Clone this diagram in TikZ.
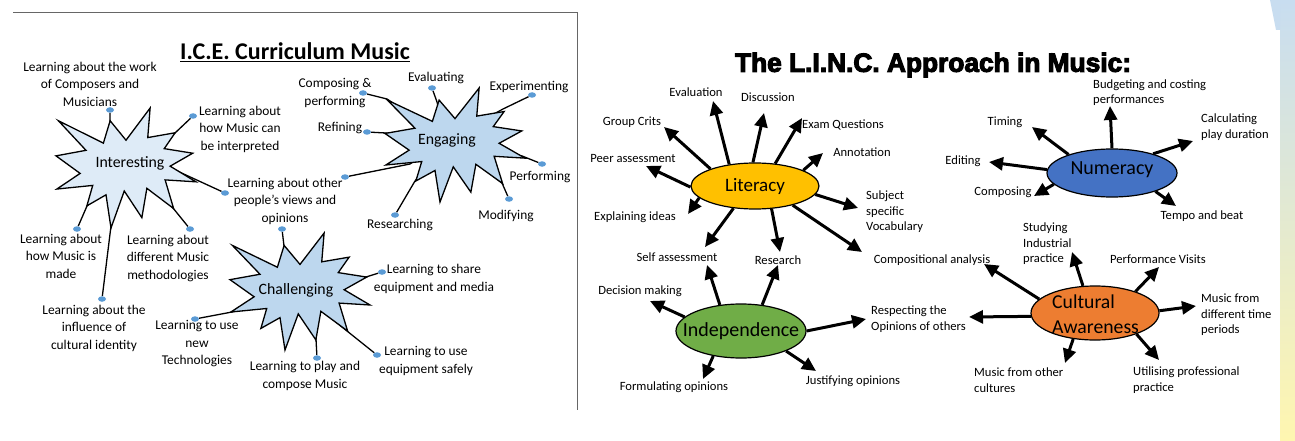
\documentclass[tikz,border=0pt]{standalone}
\usepackage{fontspec}
\setmainfont{Carlito}
\newfontfamily\blackfont{Liberation Sans}[BoldFeatures={FakeBold=4}]
\usetikzlibrary{shapes.geometric,calc,arrows.meta,positioning,backgrounds}

\definecolor{dotblue}{HTML}{5B9BD5}
\definecolor{palestar}{HTML}{DEEBF7}
\definecolor{starblue}{HTML}{BDD7EE}
\definecolor{litgold}{HTML}{FFC000}
\definecolor{indgreen}{HTML}{70AD47}
\definecolor{numblue}{HTML}{4472C4}
\definecolor{cultorange}{HTML}{ED7D31}
\definecolor{edgeblue}{HTML}{C8DDF0}
\definecolor{edgeyellow}{HTML}{FFF6B0}

% spiky explosion outline, drawn in a 216 x 216 box: x0, y0, width, height, fill
\newcommand{\explosion}[5]{%
  \draw[line width=1.3pt, fill=#5, shift={(#1,#2)}, xscale=#3/216, yscale=#4/216]
    (108,58) -- (145.22,0) -- (141.55,53.25) -- (183.8,44.57) -- (167.02,73.15)
    -- (210.97,81.37) -- (176.07,104.75) -- (216,132.9) -- (168.37,129.42)
    -- (181.45,180.95) -- (140.2,144.57) -- (132.47,197.37) -- (105.32,149.35)
    -- (84.85,216) -- (77.15,156.27) -- (47.62,176.17) -- (56.67,139.37)
    -- (1.35,145.87) -- (37.22,117.75) -- (0,86.15) -- (46.27,76.17)
    -- (3.7,22.95) -- (73.12,63.2) -- (83.52,22.95) -- cycle;}

\begin{document}
\begin{tikzpicture}[x=1pt, y=-1pt,
  knob/.style={ellipse, fill=dotblue, inner sep=0, minimum width=8pt, minimum height=5.5pt},
  txt/.style={align=center, inner sep=0, font=\fontsize{13.4}{17.5}\selectfont},
  tag/.style={align=center, inner sep=0, font=\fontsize{12.6}{15.5}\selectfont},
  hub/.style={inner sep=0, font=\fontsize{15.8}{18}\selectfont},
  wire/.style={line width=1.3pt},
  blob/.style={draw, ellipse, line width=1.2pt, inner sep=0},
  arr/.style={line width=3pt, -{Triangle[length=14pt,width=13pt]}}]
\useasboundingbox (0,0) rectangle (1295,441);

% edge of the slide
\shade[top color=edgeblue, bottom color=edgeyellow] (1280,0) rectangle (1295,441);
\fill[edgeblue] (1270,0) -- (1280,0) -- (1280,30) -- (1276,30) -- cycle;

% ---------------- I.C.E. curriculum ----------------
\draw[black!60, line width=0.8pt] (13,12) -- (577,12) -- (577,410);
\node[font=\fontsize{24}{28}\selectfont\bfseries] (icetitle) at (295,52) {\underline{I.C.E. Curriculum Music}};

\explosion{56}{108}{140}{120}{palestar}
\node[hub] (interesting) at (130,163) {Interesting};
\explosion{385}{88}{140}{114}{starblue}
\node[hub] (engaging) at (447,140) {Engaging};
\explosion{230}{233}{140}{117}{starblue}
\node[hub] (challenging) at (296,290) {Challenging};

% interesting
\node[txt] (work) at (90,84) {Learning about the work\\of Composers and\\Musicians};
\node[txt] (interp) at (240,129) {Learning about\\how Music can\\be interpreted};
\node[txt] (views) at (285,201) {Learning about other\\people’s views and\\opinions};
\node[txt] (made) at (61,256) {Learning about\\how Music is\\made};
\node[txt] (method) at (168,258) {Learning about\\different Music\\methodologies};
\node[txt] (identity) at (94,328) {Learning about the\\influence of\\cultural identity};
\node[knob] (dwork) at (110,110) {};
\node[knob] (dinterp) at (193,116) {};
\node[knob] (dviews) at (225,193) {};
\node[knob] (dmade) at (77,229) {};
\node[knob] (dmethod) at (190,229) {};
\node[knob] (didentity) at (102,299) {};
\coordinate (awork) at (110,121);
\coordinate (ainterp) at (175,133);
\coordinate (aviews) at (175,170);
\coordinate (amade) at (87,206);
\coordinate (amethod) at (173,208);
\coordinate (aidentity) at (111,226);

% engaging
\node[txt] (composing) at (335,93) {Composing \&\\performing};
\node[txt] (evaluating) at (436,78) {Evaluating};
\node[txt] (experimenting) at (529,87) {Experimenting};
\node[txt] (refining) at (340,128) {Refining};
\node[txt] (performing) at (540,177) {Performing};
\node[txt] (modifying) at (506,216) {Modifying};
\node[txt] (researching) at (400,225) {Researching};
\node[knob] (dcomposing) at (363,93) {};
\node[knob] (devaluating) at (432,88) {};
\node[knob] (dexperimenting) at (532,95) {};
\node[knob] (drefining) at (367,132) {};
\node[knob] (dperforming) at (542,164) {};
\node[knob] (dmodifying) at (509,199) {};
\node[knob] (dresearching) at (395,215) {};
\node[knob] (dviewsb) at (345,177) {};
\coordinate (acomposing) at (387,99);
\coordinate (aevaluating) at (437,102);
\coordinate (aexperimenting) at (503,109);
\coordinate (arefining) at (386,133);
\coordinate (aperforming) at (522,156);
\coordinate (amodifying) at (502,183);
\coordinate (aresearching) at (415,181);
\coordinate (aviewsb) at (410,164);

% challenging
\node[txt] (share) at (434,279) {Learning to share\\equipment and media};
\node[txt] (safely) at (426,361) {Learning to use\\equipment safely};
\node[txt] (play) at (305,376) {Learning to play and\\compose Music};
\node[txt] (tech) at (197,344) {Learning to use\\new\\Technologies};
\node[knob] (dshare) at (382,272) {};
\node[knob] (dsafely) at (377,355) {};
\node[knob] (dplay) at (317,358) {};
\node[knob] (dtech) at (195,319) {};
\node[knob] (dviewsc) at (282,229) {};
\coordinate (ashare) at (366,277);
\coordinate (asafely) at (347,331);
\coordinate (aplay) at (316,339);
\coordinate (atech) at (232,312);
\coordinate (aviewsc) at (284,246);

\begin{pgfonlayer}{background}
\foreach \d in {work,interp,views,made,method,identity}
  \draw[wire] (d\d) -- (a\d) -- (interesting);
\foreach \d in {composing,evaluating,experimenting,refining,performing,modifying,researching,viewsb}
  \draw[wire] (d\d) -- (a\d) -- (engaging);
\foreach \d in {share,safely,play,tech,viewsc}
  \draw[wire] (d\d) -- (a\d) -- (challenging);
\end{pgfonlayer}

% ---------------- L.I.N.C. approach ----------------
\node[font=\blackfont\fontsize{26.3}{30}\selectfont\bfseries] (linctitle) at (933,65) {The L.I.N.C. Approach in Music:};

\node[blob, fill=litgold, minimum width=128pt, minimum height=46pt,
  label={[font=\fontsize{19}{22}\selectfont]center:Literacy}] (lit) at (755,186) {};
\node[blob, fill=indgreen, minimum width=130pt, minimum height=54pt,
  label={[font=\fontsize{20}{24}\selectfont]center:Independence}] (ind) at (741,331) {};
\node[blob, fill=numblue, minimum width=130pt, minimum height=48pt,
  label={[font=\fontsize{20}{24}\selectfont, yshift=3pt]center:Numeracy}] (num) at (1112,173) {};
\node[blob, fill=cultorange, minimum width=128pt, minimum height=54pt] (cult) at (1095,313) {};
\node[align=left, anchor=west, inner sep=0, font=\fontsize{19.7}{25}\selectfont] (culttxt) at (1052,314) {Cultural\\Awareness};

% literacy
\node[tag] (evaluation) at (696,92) {Evaluation};
\node[tag] (discussion) at (768,97) {Discussion};
\node[tag] (exam) at (843,125) {Exam Questions};
\node[tag] (annotation) at (862,152) {Annotation};
\node[tag, align=left, anchor=west] (vocab) at (866,212) {Subject\\specific\\Vocabulary};
\node[tag] (compan) at (932,260) {Compositional analysis};
\node[tag] (research) at (778,260) {Research};
\node[tag] (selfass) at (677,257) {Self assessment};
\node[tag] (explain) at (635,217) {Explaining ideas};
\node[tag] (peer) at (633,159) {Peer assessment};
\node[tag] (crits) at (632,122) {Group Crits};
\coordinate (tevaluation) at (713,101);
\coordinate (tdiscussion) at (764,113);
\coordinate (texam) at (802,118);
\coordinate (tannotation) at (823,153);
\coordinate (tvocab) at (858,208);
\coordinate (tcompan) at (862,252);
\coordinate (tresearch) at (780,252);
\coordinate (tselfass) at (705,247);
\coordinate (texplain) at (688,214);
\coordinate (tpeer) at (646,166);
\coordinate (tcrits) at (664,127);
\draw[arr] (lit.140) -- (tevaluation);
\draw[arr] (lit.95) -- (tdiscussion);
\draw[arr] (lit.48) -- (texam);
\draw[arr] (lit.18) -- (tannotation);
\draw[arr] (lit.-8) -- (tvocab);
\draw[arr] (lit.-27) -- (tcompan);
\draw[arr] (lit.-54) -- (tresearch);
\draw[arr] (lit.-134) -- (tselfass);
\draw[arr] (lit.-168) -- (texplain);
\draw[arr] (lit.181) -- (tpeer);
\draw[arr] (lit.159) -- (tcrits);

% independence
\node[tag] (decision) at (640,291) {Decision making};
\node[tag] (formulate) at (674,387) {Formulating opinions};
\node[tag] (justify) at (853,381) {Justifying opinions};
\node[tag, align=left, anchor=west] (respect) at (871,319) {Respecting the\\Opinions of others};
\coordinate (iselfass) at (707,265);
\coordinate (iresearch) at (778,265);
\coordinate (tdecision) at (650,301);
\coordinate (tformulate) at (703,379);
\coordinate (tjustify) at (816,371);
\coordinate (trespect) at (866,319);
\draw[arr] (ind.129) -- (iselfass);
\draw[arr] (ind.51) -- (iresearch);
\draw[arr] (ind.166) -- (tdecision);
\draw[arr] (ind.-138) -- (tformulate);
\draw[arr] (ind.-24) -- (tjustify);
\draw[arr] (ind.0) -- (trespect);

% numeracy
\node[tag, align=left, anchor=west] (budget) at (1093,92.5) {Budgeting and costing\\performances};
\node[tag, align=left, anchor=west] (duration) at (1201,127) {Calculating\\play duration};
\node[tag] (timing) at (1005,122) {Timing};
\node[tag] (editing) at (963,161) {Editing};
\node[tag] (ncomposing) at (1003,192) {Composing};
\node[tag] (tempo) at (1202,216) {Tempo and beat};
\coordinate (tbudget) at (1110,106);
\coordinate (tduration) at (1193,141);
\coordinate (ttiming) at (1032,127);
\coordinate (tediting) at (989,162);
\coordinate (tncomposing) at (1034,196);
\coordinate (ttempo) at (1176,206);
\draw[arr] (num.90) -- (tbudget);
\draw[arr] (num.25) -- (tduration);
\draw[arr] (num.157) -- (ttiming);
\draw[arr] (num.177) -- (tediting);
\draw[arr] (num.-169) -- (tncomposing);
\draw[arr] (num.-23) -- (ttempo);

% cultural awareness
\node[tag, align=left, anchor=west] (industrial) at (1023,244) {Studying\\Industrial\\practice};
\node[tag] (visits) at (1158,259) {Performance Visits};
\node[tag, align=left, anchor=west] (periods) at (1201,315) {Music from\\different time\\periods};
\node[tag, align=left, anchor=west] (professional) at (1133,380) {Utilising professional\\practice};
\node[tag, align=left, anchor=west] (cultures) at (974,380) {Music from other\\cultures};
\coordinate (tindustrial) at (1072,252);
\coordinate (tvisits) at (1159,267);
\coordinate (tperiods) at (1196,306);
\coordinate (tprofessional) at (1159,360);
\coordinate (tcultures) at (1065,363);
\coordinate (crespect) at (969,317);
\coordinate (ccompan) at (984,264);
\draw[arr] (cult.114) -- (tindustrial);
\draw[arr] (cult.28) -- (tvisits);
\draw[arr] (cult.2) -- (tperiods);
\draw[arr] (cult.-27) -- (tprofessional);
\draw[arr] (cult.-130) -- (tcultures);
\draw[arr] (cult.183) -- (crespect);
\draw[arr] (cult.166) -- (ccompan);
\end{tikzpicture}
\end{document}
